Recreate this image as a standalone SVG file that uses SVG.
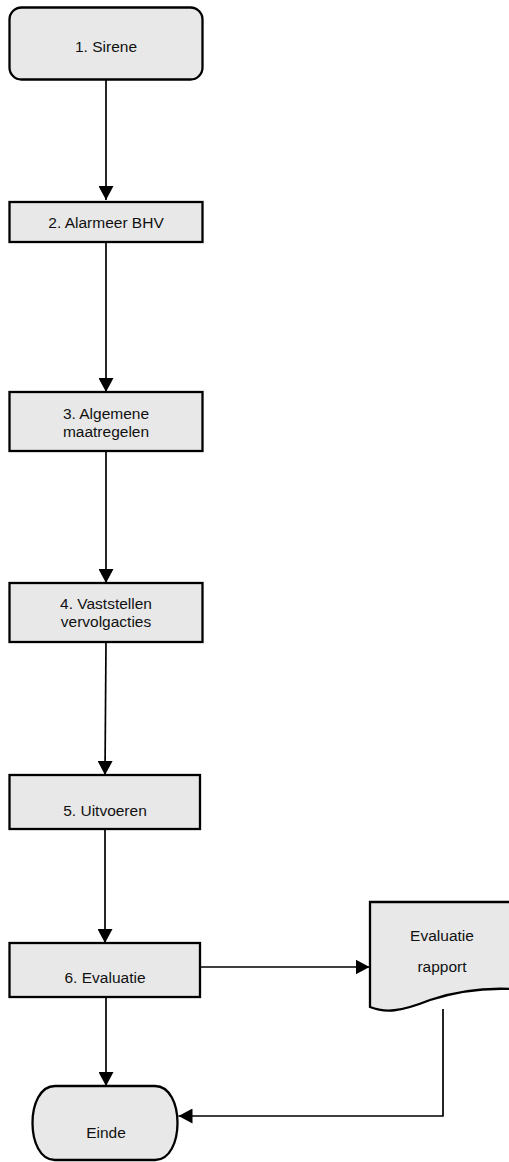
<svg xmlns="http://www.w3.org/2000/svg" width="509" height="1162" viewBox="0 0 509 1162">
<defs>
<marker id="arr" markerWidth="14" markerHeight="15" refX="14" refY="7.5" orient="auto" markerUnits="userSpaceOnUse">
<path d="M0,0 L14,7.5 L0,15 Z" fill="#000"/>
</marker>
<style>
.n{fill:#e8e8e8;stroke:#000;stroke-width:2.3}
.t{font-family:"Liberation Sans",Arial,sans-serif;font-size:15.5px;fill:#111;text-anchor:middle}
.c{fill:none;stroke:#000;stroke-width:1.7}
</style>
</defs>
<rect width="509" height="1162" fill="#fff"/>
<g id="connectors">
<path class="c" d="M106,80 L106,200" marker-end="url(#arr)"/>
<path class="c" d="M106,242 L106,392" marker-end="url(#arr)"/>
<path class="c" d="M106,451 L106,583" marker-end="url(#arr)"/>
<path class="c" d="M106,642 L105,775" marker-end="url(#arr)"/>
<path class="c" d="M105,829 L105,943" marker-end="url(#arr)"/>
<path class="c" d="M200,967 L369.5,967" marker-end="url(#arr)"/>
<path class="c" d="M106,997 L106,1086" marker-end="url(#arr)"/>
<path class="c" d="M443,1009 L443,1116 L178.5,1116" marker-end="url(#arr)"/>
</g>
<g id="n1">
<rect class="n" x="9.5" y="7.5" width="193" height="72" rx="12"/>
<text class="t" x="106" y="51.5">1. Sirene</text>
</g>
<g id="n2">
<rect class="n" x="9.5" y="202" width="193" height="40"/>
<text class="t" x="106" y="228">2. Alarmeer BHV</text>
</g>
<g id="n3">
<rect class="n" x="9.5" y="392" width="193" height="59"/>
<text class="t" x="106" y="419">3. Algemene</text>
<text class="t" x="106" y="436.5">maatregelen</text>
</g>
<g id="n4">
<rect class="n" x="9.5" y="583" width="193" height="59"/>
<text class="t" x="106" y="609">4. Vaststellen</text>
<text class="t" x="106" y="627">vervolgacties</text>
</g>
<g id="n5">
<rect class="n" x="9.5" y="775" width="190.5" height="54"/>
<text class="t" x="105" y="815.5">5. Uitvoeren</text>
</g>
<g id="n6">
<rect class="n" x="9.5" y="943" width="190.5" height="54"/>
<text class="t" x="105" y="983">6. Evaluatie</text>
</g>
<g id="doc">
<path class="n" d="M370,902 L512,902 L512,989 C490,988 460,990 430,1000 C400,1012 385,1013 370,1007 Z"/>
<text class="t" x="442" y="941">Evaluatie</text>
<text class="t" x="442" y="972">rapport</text>
</g>
<g id="einde">
<path class="n" d="M55,1086 L155,1086 C185,1086 185,1160 155,1160 L55,1160 C25,1160 25,1086 55,1086 Z"/>
<text class="t" x="106" y="1138">Einde</text>
</g>
</svg>
